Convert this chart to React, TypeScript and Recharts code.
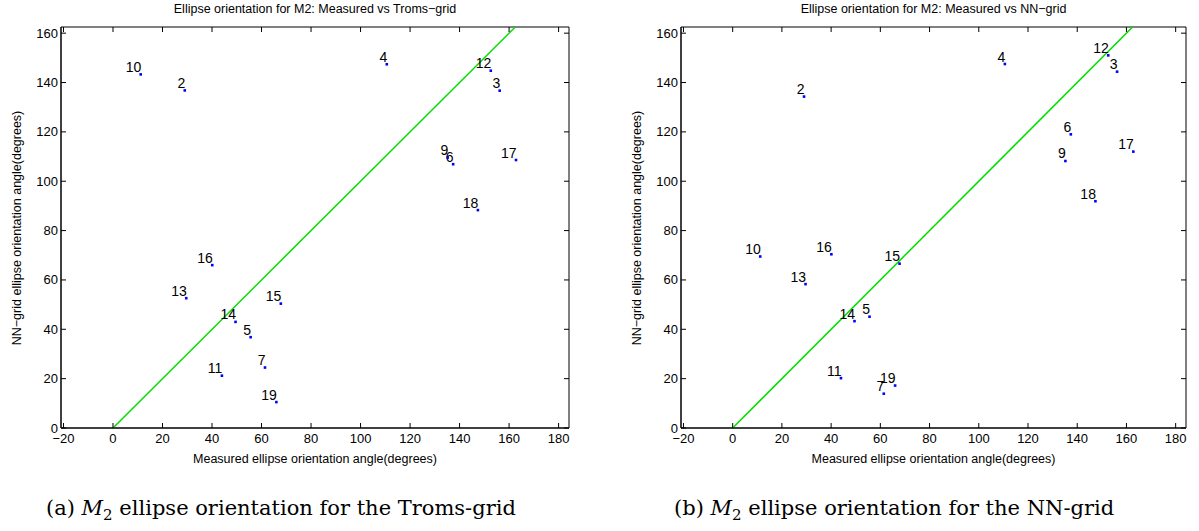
import React from 'react';
import { ScatterChart, Scatter, XAxis, YAxis, ReferenceLine, ReferenceArea } from 'recharts';

// station numbers (1 and 8 are not plotted)
const pointIds = [2, 3, 4, 5, 6, 7, 9, 10, 11, 12, 13, 14, 15, 16, 17, 18, 19];
// measured ellipse orientation (degrees)
const measured = [29.0, 156.2, 110.6, 55.6, 137.4, 61.4, 135.2, 11.2, 44.0, 152.6, 29.6, 49.5, 67.8, 40.1, 162.8, 147.4, 66.0];
// modelled orientation, Troms-grid
const tromsGrid = [136.8, 136.7, 147.4, 36.8, 106.9, 24.5, 109.6, 143.3, 21.2, 144.8, 52.6, 43.0, 50.4, 66.0, 108.6, 88.3, 10.5];
// modelled orientation, NN-grid
const nnGrid = [134.3, 144.4, 147.5, 45.1, 119.0, 13.9, 108.2, 69.5, 20.2, 151.0, 58.3, 43.3, 66.6, 70.4, 112.0, 91.9, 17.2];

const xTicks = [-20, 0, 20, 40, 60, 80, 100, 120, 140, 160, 180];
const yTicks = [0, 20, 40, 60, 80, 100, 120, 140, 160];
const X_DOMAIN = [-21, 184.2];
const Y_DOMAIN = [0, 162.5];

const FONT = '"Liberation Sans", Arial, Helvetica, sans-serif';
const fmt = (v: number) => (v < 0 ? `\u2212${Math.abs(v)}` : `${v}`);

const CHART_H = 470;
const M_TOP = 27;
const M_BOTTOM = 12;
const X_AXIS_H = 30;
const Y_AXIS_W = 40;
const M_LEFT = 21;
const PLOT_H = CHART_H - M_TOP - M_BOTTOM - X_AXIS_H;

// bottom tick (with label) plus the mirrored tick on the top edge
function XTick({ x, y, payload }: any) {
  return (
    <g>
      <line x1={x} x2={x} y1={y} y2={y - 5} stroke="#000" />
      <line x1={x} x2={x} y1={y - PLOT_H} y2={y - PLOT_H + 5} stroke="#000" />
      <text x={x} y={y + 15} textAnchor="middle" fontSize={13} fontFamily={FONT} fill="#000">
        {fmt(payload.value)}
      </text>
    </g>
  );
}

// left tick (with label) plus the mirrored tick on the right edge
function YTick({ x, y, payload, plotW }: any) {
  return (
    <g>
      <line x1={x} x2={x + 5} y1={y} y2={y} stroke="#000" />
      <line x1={x + plotW} x2={x + plotW - 5} y1={y} y2={y} stroke="#000" />
      <text x={x - 3} y={y + 4.5} textAnchor="end" fontSize={13} fontFamily={FONT} fill="#000">
        {fmt(payload.value)}
      </text>
    </g>
  );
}

function Marker({ cx, cy, payload }: any) {
  return (
    <g>
      <rect x={cx - 1.3} y={cy - 1.3} width={2.6} height={2.6} fill="#0000ff" />
      <text x={cx + 0.5} y={cy - 2.5} textAnchor="end" fontSize={14} fontFamily={FONT} fill="#000">
        {payload.id}
      </text>
    </g>
  );
}

function OrientationChart({ title, modelled, width, marginRight }: any) {
  const data = pointIds.map((id, i) => ({ id, x: measured[i], y: modelled[i] }));
  const plotW = width - M_LEFT - Y_AXIS_W - marginRight;
  return (
    <div style={{ position: 'relative', width, height: CHART_H }}>
      <div
        style={{
          position: 'absolute', top: 2, left: M_LEFT + Y_AXIS_W, width: plotW,
          textAlign: 'center', fontFamily: FONT, fontSize: 12.5,
        }}
      >
        {title}
      </div>
      <ScatterChart
        width={width} height={CHART_H}
        margin={{ top: M_TOP, right: marginRight, bottom: M_BOTTOM, left: M_LEFT }}
      >
        <XAxis
          type="number" dataKey="x" domain={X_DOMAIN} ticks={xTicks} allowDataOverflow
          height={X_AXIS_H} tickSize={0} tickMargin={0} stroke="#000"
          tick={(p: any) => <XTick {...p} />}
        />
        <YAxis
          type="number" dataKey="y" domain={Y_DOMAIN} ticks={yTicks} allowDataOverflow
          width={Y_AXIS_W} tickSize={0} tickMargin={0} stroke="#000"
          tick={(p: any) => <YTick {...p} plotW={plotW} />}
        />
        <ReferenceArea
          x1={X_DOMAIN[0]} x2={X_DOMAIN[1]} y1={Y_DOMAIN[0]} y2={Y_DOMAIN[1]}
          fill="none" fillOpacity={0} stroke="#000" strokeWidth={1}
        />
        <ReferenceLine
          segment={[{ x: 0, y: 0 }, { x: Y_DOMAIN[1], y: Y_DOMAIN[1] }]}
          stroke="#00dd00" strokeWidth={1.5}
        />
        <Scatter data={data} isAnimationActive={false} shape={(p: any) => <Marker {...p} />} />
      </ScatterChart>
      <div
        style={{
          position: 'absolute', top: 452, left: M_LEFT + Y_AXIS_W, width: plotW,
          textAlign: 'center', fontFamily: FONT, fontSize: 12.5,
        }}
      >
        Measured ellipse orientation angle(degrees)
      </div>
      <div
        style={{
          position: 'absolute', left: 17, top: 228, width: 400, marginLeft: -200, marginTop: -8,
          textAlign: 'center', fontFamily: FONT, fontSize: 12.5, transform: 'rotate(-90deg)',
          lineHeight: '16px',
        }}
      >
        NN{'\u2212'}grid ellipse orientation angle(degrees)
      </div>
    </div>
  );
}

const captionStyle: React.CSSProperties = {
  position: 'absolute', top: 496, fontFamily: '"DejaVu Serif", "Liberation Serif", serif',
  fontSize: 21, whiteSpace: 'nowrap',
};

export default function App() {
  return (
    <div style={{ position: 'absolute', left: 0, top: 0, width: 1199, height: 531, background: '#fff', overflow: 'hidden' }}>
      <div style={{ position: 'absolute', left: 0, top: 0 }}>
        <OrientationChart
          title={`Ellipse orientation for M2: Measured vs Troms\u2212grid`}
          modelled={tromsGrid} width={600} marginRight={31}
        />
      </div>
      <div style={{ position: 'absolute', left: 620, top: 0 }}>
        <OrientationChart
          title={`Ellipse orientation for M2: Measured vs NN\u2212grid`}
          modelled={nnGrid} width={579} marginRight={13}
        />
      </div>
      <div style={{ ...captionStyle, left: 46 }}>
        (a) <i>M</i><sub style={{ fontSize: 15 }}>2</sub> ellipse orientation for the Troms-grid
      </div>
      <div style={{ ...captionStyle, left: 674 }}>
        (b) <i>M</i><sub style={{ fontSize: 15 }}>2</sub> ellipse orientation for the NN-grid
      </div>
    </div>
  );
}
